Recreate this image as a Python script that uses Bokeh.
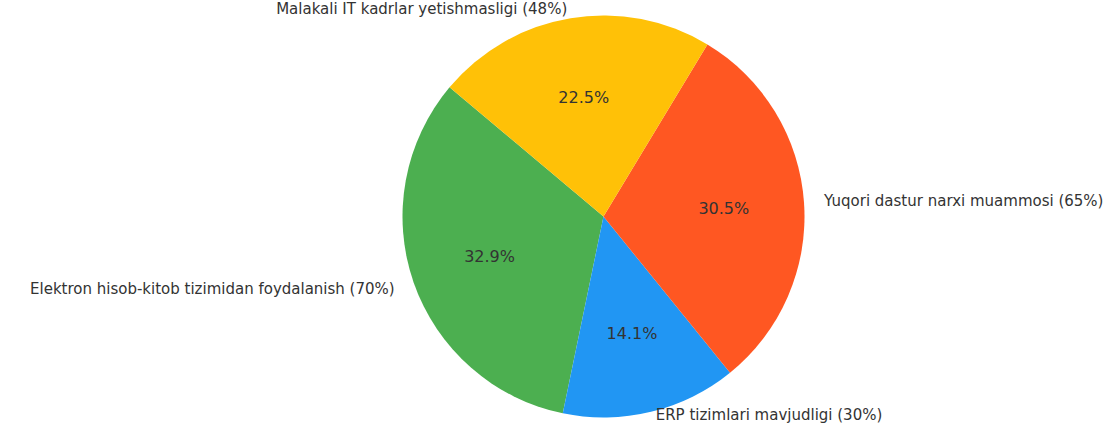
import numpy as np
from bokeh.plotting import figure
from bokeh.models import Range1d, ColumnDataSource
from bokeh.core.properties import value
from bokeh.embed import file_html
from bokeh.resources import INLINE

labels = ["Elektron hisob-kitob tizimidan foydalanish (70%)",
          "ERP tizimlari mavjudligi (30%)",
          "Yuqori dastur narxi muammosi (65%)",
          "Malakali IT kadrlar yetishmasligi (48%)"]
values = [70, 30, 65, 48]
colors = ["#4CAF50", "#2196F3", "#FF5722", "#FFC107"]
start_deg = 140.0

W, H = 1103, 423
cx, cy, R = 603.0, H - 216.0, 201.0
FS = 15

vals = np.array(values, dtype=float)
frac = vals / vals.sum()
ang = frac * 2 * np.pi
starts = np.deg2rad(start_deg) + np.concatenate([[0], np.cumsum(ang)[:-1]])
ends = starts + ang
mids = (starts + ends) / 2

p = figure(width=W, height=H, output_backend="svg", toolbar_location=None,
           x_range=Range1d(0, W), y_range=Range1d(0, H), min_border=0)
p.axis.visible = False
p.grid.visible = False
p.outline_line_color = None
p.background_fill_color = "white"

src = ColumnDataSource(dict(start=starts, end=ends, color=colors))
p.wedge(x=cx, y=cy, radius=R, start_angle="start", end_angle="end",
        fill_color="color", line_color=None, source=src)

lx = cx + 1.1 * R * np.cos(mids)
ly = cy + 1.1 * R * np.sin(mids)
# keep the outer labels inside the canvas
ly = np.clip(ly, FS / 2 + 1, H - FS / 2 - 1)
align = ["left" if np.cos(m) > 0 else "right" for m in mids]
p.text(x=lx, y=ly, text=labels, text_align=align, text_baseline="middle",
       text_font=value("DejaVu Sans"), text_font_size=f"{FS}px", text_color="#333333")

px = cx + 0.6 * R * np.cos(mids)
py = cy + 0.6 * R * np.sin(mids)
pct = [f"{f*100:.1f}%" for f in frac]
p.text(x=px, y=py, text=pct, text_align="center", text_baseline="middle",
       text_font=value("DejaVu Sans"), text_font_size="16px", text_color="#333333")

open("out.html", "w").write(file_html(p, INLINE))
